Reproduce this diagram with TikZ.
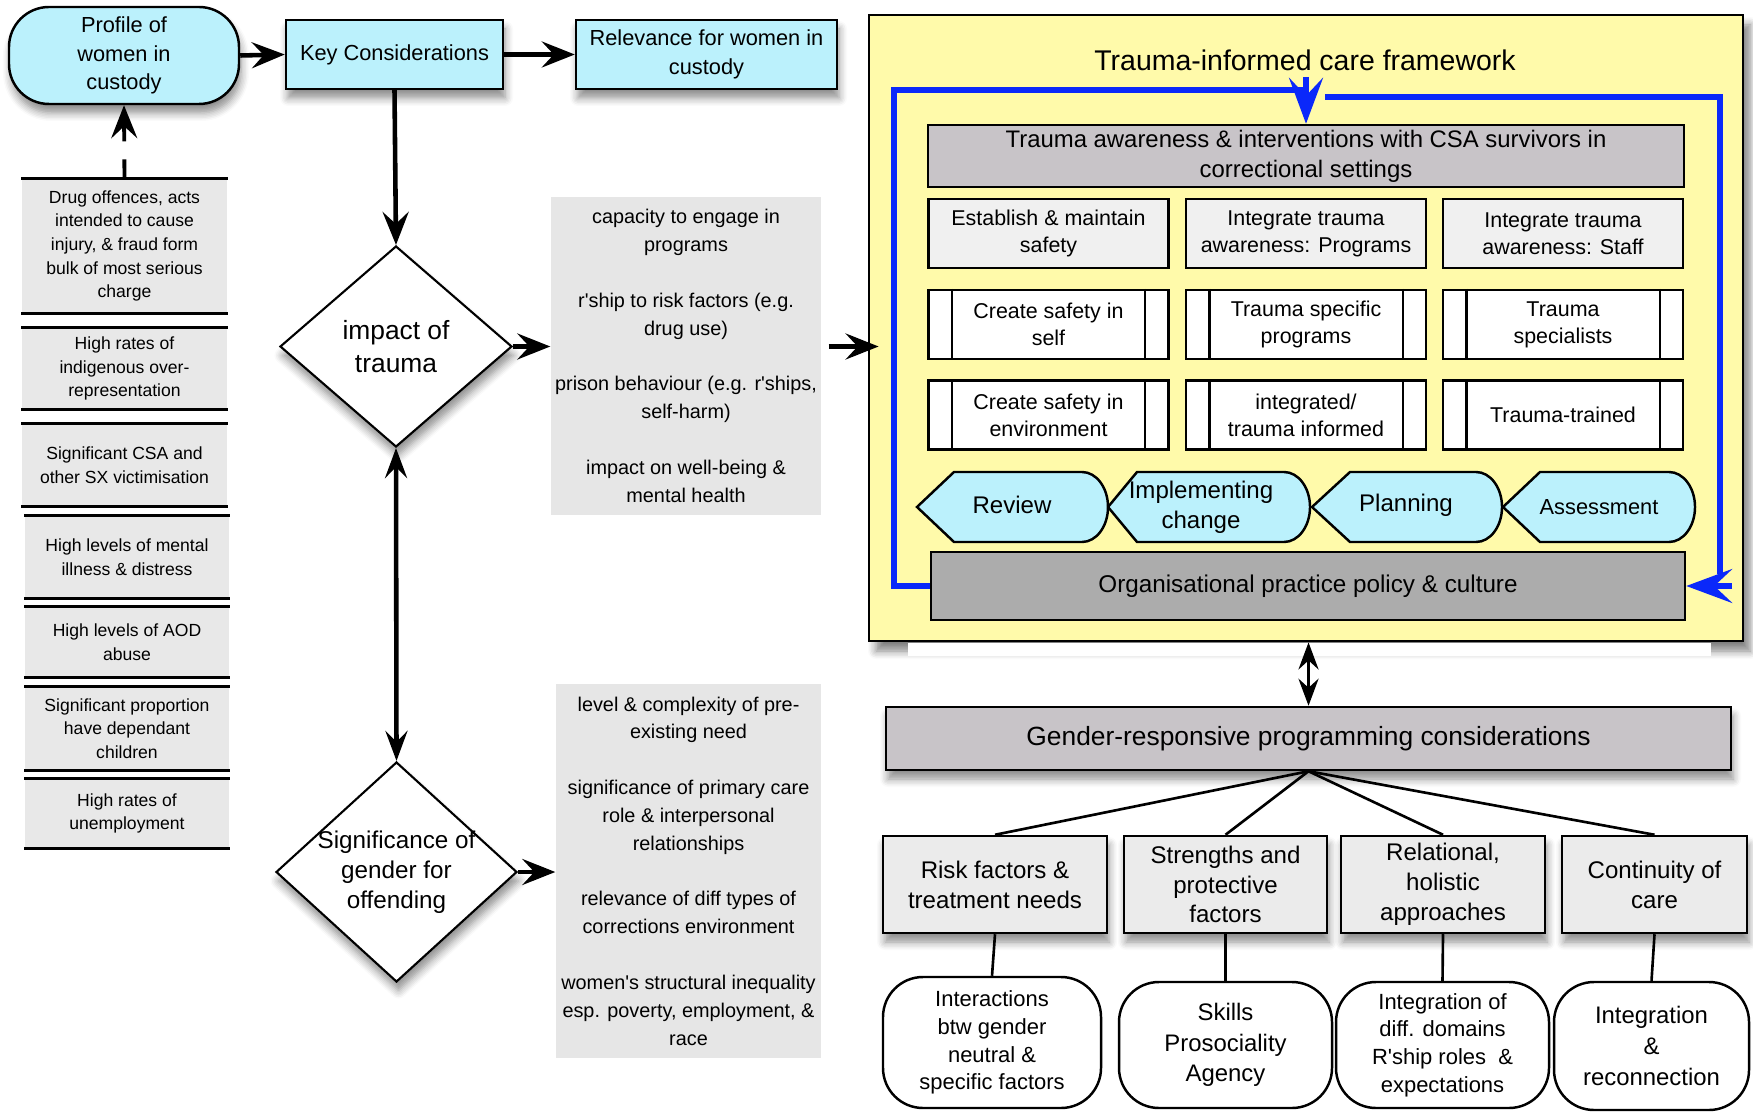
\documentclass[tikz,border=0pt]{standalone}
\usepackage{fontspec}
\setmainfont{Liberation Sans}
\usepackage{tikz}
\usetikzlibrary{arrows.meta,shapes,shadows,shadows.blur,calc}
\definecolor{cyanfill}{RGB}{187,241,252}
\definecolor{framefill}{RGB}{255,250,170}
\definecolor{listgrey}{RGB}{230,230,230}
\definecolor{stripgrey}{RGB}{232,232,232}
\definecolor{headgrey}{RGB}{200,196,200}
\definecolor{cellgrey}{RGB}{240,240,240}
\definecolor{orggrey}{RGB}{172,172,172}
\definecolor{boxgrey}{RGB}{235,235,235}
\definecolor{loopblue}{RGB}{10,40,250}
\newcommand{\sz}[2]{\fontsize{#1}{#2}\selectfont}
\newcommand{\ap}{\textquotesingle}
\tikzstyle{softshadow}=[blur shadow={shadow xshift=0.02cm,shadow yshift=-0.09cm,shadow blur steps=6,shadow blur radius=0.08cm,shadow opacity=45}]
\tikzstyle{cyanbox}=[rectangle, draw, fill=cyanfill, line width=0.7pt, align=center, inner sep=0pt, softshadow, font=\sz{6.2}{8.2}]
\tikzstyle{profbox}=[cyanbox, rounded corners=0.4cm]
\tikzstyle{sidebox}=[rectangle, fill=stripgrey, align=center, inner sep=0pt, font=\sz{5}{6.7}]
\tikzstyle{sidebar}=[line width=0.85pt]
\tikzstyle{listbox}=[rectangle, fill=listgrey, align=center, inner sep=0pt, font=\sz{5.65}{7.9}]
\tikzstyle{dia}=[diamond, draw, fill=white, line width=0.6pt, inner sep=0pt, softshadow]
\tikzstyle{flow}=[-{Stealth[length=3.3mm,width=2.6mm,inset=1.2mm]}, line width=1.3pt]
\tikzstyle{flowboth}=[{Stealth[length=3mm,width=2.2mm,inset=1.1mm]}-{Stealth[length=3mm,width=2.2mm,inset=1.1mm]}, line width=1.3pt]
\tikzstyle{framebox}=[rectangle, draw, fill=framefill, line width=0.8pt, inner sep=0pt, blur shadow={shadow xshift=0.07cm,shadow yshift=-0.1cm,shadow blur steps=6,shadow blur radius=0.08cm,shadow opacity=50}]
\tikzstyle{headbox}=[rectangle, draw, fill=headgrey, line width=0.7pt, align=center, inner sep=0pt, font=\sz{6.8}{8.5}]
\tikzstyle{cellbox}=[rectangle, draw, fill=cellgrey, line width=0.7pt, align=center, inner sep=0pt, minimum width=2.40cm, minimum height=0.69cm, font=\sz{6.1}{7.65}]
\tikzstyle{procbox}=[cellbox, fill=white]
\tikzstyle{chev}=[draw, fill=cyanfill, line width=0.7pt]
\tikzstyle{chevtext}=[align=center, inner sep=0pt, font=\sz{6.85}{8.5}]
\tikzstyle{orgbox}=[rectangle, draw, fill=orggrey, line width=0.7pt, align=center, inner sep=0pt, font=\sz{6.9}{8.5}]
\tikzstyle{blueline}=[draw=loopblue, line width=1.5pt]
\tikzstyle{bluearr}=[blueline, -{Stealth[length=4.6mm,width=3.4mm,inset=1.8mm]}, fill=loopblue]
\tikzstyle{genbox}=[rectangle, draw, fill=headgrey, line width=0.7pt, align=center, inner sep=0pt, softshadow, font=\sz{7.5}{9}]
\tikzstyle{needbox}=[rectangle, draw, fill=boxgrey, line width=0.7pt, align=center, inner sep=0pt, minimum height=0.97cm, softshadow, font=\sz{6.85}{8.5}]
\tikzstyle{ovalbox}=[rectangle, draw, fill=white, rounded corners=0.4cm, line width=0.7pt, align=center, inner sep=0pt]
\tikzstyle{tie}=[line width=0.75pt]
\tikzstyle{dbl}=[{Stealth[length=2.7mm,width=2mm,inset=0.9mm]}-{Stealth[length=2.7mm,width=2mm,inset=0.9mm]}, line width=1pt]
% chevron outline: tip x, corner x, right end x
\newcommand{\chevshape}[3]{\draw[chev] (#1,-5.07) -- (#2,-4.72) -- ({#3-0.26},-4.72) arc[start angle=90,end angle=-90,x radius=0.26,y radius=0.35] -- (#2,-5.42) -- cycle;}

\begin{document}
\begin{tikzpicture}
\useasboundingbox (0,0) rectangle (17.53,-11.15);
% top row
\node[profbox, minimum width=2.30cm, minimum height=0.97cm] (prof) at (1.24,-0.555) {Profile of\\women in\\custody};
\node[cyanbox, minimum width=2.17cm, minimum height=0.69cm] (key) at (3.945,-0.545) {Key Considerations};
\node[cyanbox, minimum width=2.61cm, minimum height=0.69cm] (rel) at (7.065,-0.545) {Relevance for women in\\custody};
\draw[flow] (prof.east) -- (key.west);
\draw[flow] (key.east) -- (rel.west);

% profile facts
\node[sidebox, minimum width=2.05cm, minimum height=1.34cm] (d1) at (1.245,-2.46) {Drug offences, acts\\intended to cause\\injury, \& fraud form\\bulk of most serious\\charge};
\node[sidebox, minimum width=2.05cm, minimum height=0.81cm] (d2) at (1.245,-3.685) {High rates of\\indigenous over-\\representation};
\node[sidebox, minimum width=2.05cm, minimum height=0.82cm] (d3) at (1.245,-4.65) {Significant CSA and\\other SX victimisation};
\node[sidebox, minimum width=2.04cm, minimum height=0.82cm] (d4) at (1.27,-5.57) {High levels of mental\\illness \& distress};
\node[sidebox, minimum width=2.04cm, minimum height=0.70cm] (d5) at (1.27,-6.42) {High levels of AOD\\abuse};
\node[sidebox, minimum width=2.04cm, minimum height=0.83cm] (d6) at (1.27,-7.285) {Significant proportion\\have dependant\\children};
\node[sidebox, minimum width=2.04cm, minimum height=0.69cm] (d7) at (1.27,-8.135) {High rates of\\unemployment};
\foreach \n in {d1,d2,d3,d4,d5,d6,d7}
  \draw[sidebar] (\n.north west) -- (\n.north east) (\n.south west) -- (\n.south east);
\draw[flow, line width=1.1pt, dash pattern=on 0.19cm off 0.18cm on 1cm] (d1.north) -- (prof.south);

% decisions
\node[dia, minimum width=2.32cm, minimum height=2.01cm, label={[align=center,font=\sz{7.5}{9.2}]center:impact of\\trauma}] (imp) at (3.96,-3.465) {};
\node[dia, minimum width=2.41cm, minimum height=2.20cm, label={[align=center,font=\sz{6.9}{8.5}]center:Significance of\\gender for\\offending}] (sig) at (3.965,-8.72) {};
\draw[flow] (key.south) -- (imp.north);
\draw[flowboth] (imp.south) -- (sig.north);

% relevance lists
\node[listbox, minimum width=2.70cm, minimum height=3.18cm] (g1) at (6.86,-3.56) {capacity to engage in\\programs\\[2.8mm]r\ap ship to risk factors (e.g.\\drug use)\\[2.8mm]prison behaviour (e.g. r\ap ships,\\self-harm)\\[2.8mm]impact on well-being \&\\mental health};
\node[listbox, minimum width=2.65cm, minimum height=3.74cm] (g2) at (6.885,-8.71) {level \& complexity of pre-\\existing need\\[2.8mm]significance of primary care\\role \& interpersonal\\relationships\\[2.8mm]relevance of diff types of\\corrections environment\\[2.8mm]women\ap s structural inequality\\esp. poverty, employment, \&\\race};
\draw[flow] (imp.east) -- (imp.east -| g1.west);
\draw[flow] (sig.east) -- (sig.east -| g2.west);

% framework
\node[framebox, minimum width=8.74cm, minimum height=6.26cm] (fw) at (13.06,-3.28) {};
\fill[white] (9.08,-6.43) rectangle (17.11,-6.56);
\node[font=\sz{8.1}{9.7}] (ttl) at (13.05,-0.60) {Trauma-informed care framework};
\node[headbox, minimum width=7.56cm, minimum height=0.62cm] (ta) at (13.06,-1.56) {Trauma awareness \& interventions with CSA survivors in\\correctional settings};
\node[cellbox] (r11) at (10.485,-2.335) {Establish \& maintain\\safety};
\node[cellbox] (r12) at (13.06,-2.335) {Integrate trauma\\awareness: Programs};
\node[cellbox] (r13) at (15.63,-2.335) {Integrate trauma\\awareness: Staff};
\node[procbox] (r21) at (10.485,-3.245) {Create safety in\\self};
\node[procbox] (r22) at (13.06,-3.245) {Trauma specific\\programs};
\node[procbox] (r23) at (15.63,-3.245) {Trauma\\specialists};
\node[procbox] (r31) at (10.485,-4.15) {Create safety in\\environment};
\node[procbox] (r32) at (13.06,-4.15) {integrated/\\trauma informed};
\node[procbox] (r33) at (15.63,-4.15) {Trauma-trained};
\foreach \n in {r21,r22,r23,r31,r32,r33}
  \draw[line width=0.7pt] ([xshift=0.245cm]\n.north west) -- ([xshift=0.245cm]\n.south west)
    ([xshift=-0.245cm]\n.north east) -- ([xshift=-0.245cm]\n.south east);
\chevshape{9.17}{9.54}{11.08}
\chevshape{11.08}{11.37}{13.10}
\chevshape{13.12}{13.50}{15.02}
\chevshape{15.03}{15.40}{16.95}
\node[chevtext] (rev) at (10.12,-5.05) {Review};
\node[chevtext] (chg) at (12.01,-5.07) {Implementing\\change};
\node[chevtext] (pln) at (14.06,-5.05) {Planning};
\node[chevtext, font=\sz{6.2}{8}] (ass) at (15.99,-5.07) {Assessment};
\node[orgbox, minimum width=7.54cm, minimum height=0.68cm] (org) at (13.08,-5.86) {Organisational practice policy \& culture};
\coordinate (lc) at (8.94,-0.90);
\coordinate (ltop) at (13.06,-0.77);
\coordinate (rs) at (13.25,-0.97);
\coordinate (rc) at (17.20,-0.97);
\coordinate (rin) at (17.32,-5.86);
\draw[blueline] (org.west) -| (lc) -- (ltop |- lc);
\draw[bluearr] (ltop) -- (ta.north);
\draw[blueline] (rs) -- (rc) -- (17.20,-5.74);
\draw[bluearr] (rin) -- (org.east);
\draw[flow] ($(g1.east |- imp.east)+(0.07,0)$) -- ($(fw.west |- imp.east)+(0.11,0)$);

% gender-responsive programming
\node[genbox, minimum width=8.45cm, minimum height=0.63cm] (gen) at (13.085,-7.385) {Gender-responsive programming considerations};
\draw[dbl] (gen.north |- fw.south) -- (gen.north);
\node[needbox, minimum width=2.24cm] (b1) at (9.95,-8.845) {Risk factors \&\\treatment needs};
\node[needbox, minimum width=2.03cm] (b2) at (12.255,-8.845) {Strengths and\\protective\\factors};
\node[needbox, minimum width=2.04cm] (b3) at (14.43,-8.845) {Relational,\\holistic\\approaches};
\node[needbox, minimum width=1.85cm] (b4) at (16.545,-8.845) {Continuity of\\care};
\node[ovalbox, minimum width=2.18cm, minimum height=1.31cm, font=\sz{6.25}{7.9}] (o1) at (9.92,-10.425) {Interactions\\btw gender\\neutral \&\\specific factors};
\node[ovalbox, minimum width=2.13cm, minimum height=1.26cm, font=\sz{6.8}{8.7}] (o2) at (12.255,-10.45) {Skills\\Prosociality\\Agency};
\node[ovalbox, minimum width=2.13cm, minimum height=1.26cm, font=\sz{6.25}{7.9}] (o3) at (14.425,-10.45) {Integration of\\diff. domains\\R\ap ship roles~ \&\\expectations};
\node[ovalbox, minimum width=1.95cm, minimum height=1.28cm, font=\sz{6.8}{8.7}] (o4) at (16.515,-10.46) {Integration\\\&\\reconnection};
\foreach \i in {1,2,3,4} {
  \draw[tie] (gen.south) -- (b\i.north);
  \draw[tie] (b\i.south) -- (o\i.north);
}
\end{tikzpicture}
\end{document}
